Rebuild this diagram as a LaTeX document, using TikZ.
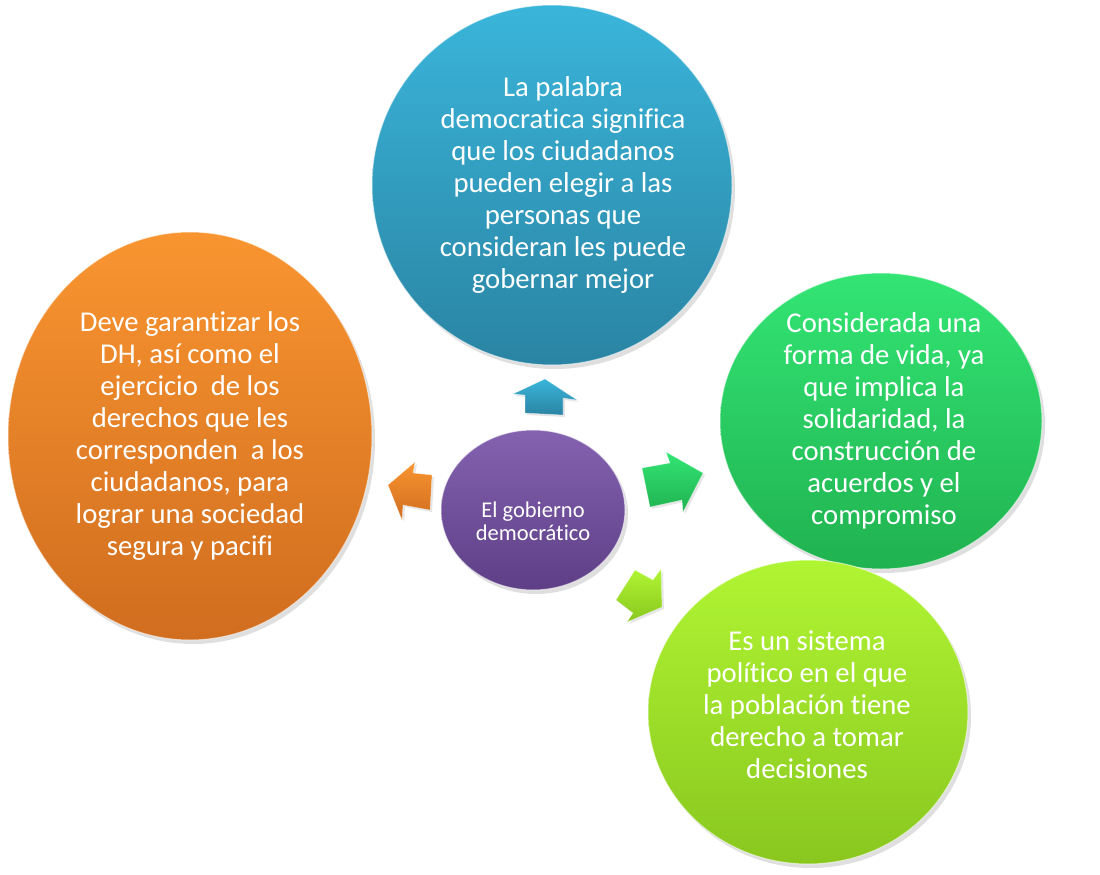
\documentclass[tikz,border=0pt]{standalone}
\usepackage{fontspec}
\setmainfont{Carlito}[Ligatures=NoCommon]
\usetikzlibrary{shapes.geometric,shadows}
\definecolor{bluetop}{HTML}{3AB5DA}\definecolor{bluebot}{HTML}{2A84A3}
\definecolor{orangetop}{HTML}{F99530}\definecolor{orangebot}{HTML}{D06D1F}
\definecolor{greentop}{HTML}{33E574}\definecolor{greenbot}{HTML}{20B250}
\definecolor{limetop}{HTML}{B0F533}\definecolor{limebot}{HTML}{89C71F}
\definecolor{purpletop}{HTML}{8462B0}\definecolor{purplebot}{HTML}{5E3F86}
\begin{document}
\begin{tikzpicture}[x=1pt,y=-1pt,
  bubble/.style={ellipse, inner sep=0pt, draw=white, draw opacity=0.55, line width=1pt,
    drop shadow={opacity=0.25, shadow xshift=3pt, shadow yshift=-4pt}},
  bigtxt/.style={text=white, align=center, font=\fontsize{28.7}{32}\selectfont},
  midtxt/.style={text=white, align=center, font=\fontsize{22.5}{23}\selectfont},
  blockarrow/.style={draw=white, draw opacity=0.4, line width=0.6pt, line join=round,
    drop shadow={opacity=0.2, shadow xshift=2pt, shadow yshift=-2pt}}]
\useasboundingbox (0,0) rectangle (1100,875);
% bubbles
\node[bubble, top color=orangetop, bottom color=orangebot, minimum width=364pt, minimum height=408pt] (orange) at (190,436) {};
\node[bubble, top color=bluetop, bottom color=bluebot, minimum width=360pt, minimum height=360pt] (blue) at (552,185) {};
\node[bubble, top color=greentop, bottom color=greenbot, minimum width=322pt, minimum height=296pt] (green) at (881,421) {};
\node[bubble, top color=limetop, bottom color=limebot, minimum width=320pt, minimum height=304pt] (lime) at (808,712) {};
\node[bubble, top color=purpletop, bottom color=purplebot, minimum width=184pt, minimum height=160pt] (center) at (533,510) {};
% block arrows
\shade[blockarrow, top color=bluetop, bottom color=bluebot]
  (545,379) -- (577,400) -- (563,398) -- (563,415) -- (525,413) -- (525,395) -- (513,394) -- cycle;
\shade[blockarrow, top color=greentop, bottom color=greenbot]
  (703,473) -- (683,512) -- (682,500) -- (650,507) -- (642,468) -- (670,463) -- (666,452) -- cycle;
\shade[blockarrow, top color=limetop, bottom color=limebot]
  (635,570) -- (653,580) -- (661,569) -- (662,607) -- (627,622) -- (633,613) -- (616,600) -- cycle;
\shade[blockarrow, top color=orangetop, bottom color=orangebot]
  (388,485) -- (415,462) -- (413,473) -- (432,475) -- (430,510) -- (403,505) -- (402,520) -- cycle;
% texts
\node[bigtxt] (bluetext) at (563,185) {La palabra\\democratica significa\\que los ciudadanos\\pueden elegir a las\\personas que\\consideran les puede\\gobernar mejor};
\node[bigtxt] (orangetext) at (190,436) {Deve garantizar los\\DH, así como el\\ejercicio\ \ de los\\derechos que les\\corresponden\ \ a los\\ciudadanos, para\\lograr una sociedad\\segura y pacifi};
\node[bigtxt] (greentext) at (884,421) {Considerada una\\forma de vida, ya\\que implica la\\solidaridad, la\\construcción de\\acuerdos y el\\compromiso};
\node[bigtxt] (limetext) at (807,705) {Es un sistema\\político en el que\\la población tiene\\derecho a tomar\\decisiones};
\node[midtxt] (centertext) at (533,521) {El gobierno\\democrático};
\end{tikzpicture}
\end{document}
